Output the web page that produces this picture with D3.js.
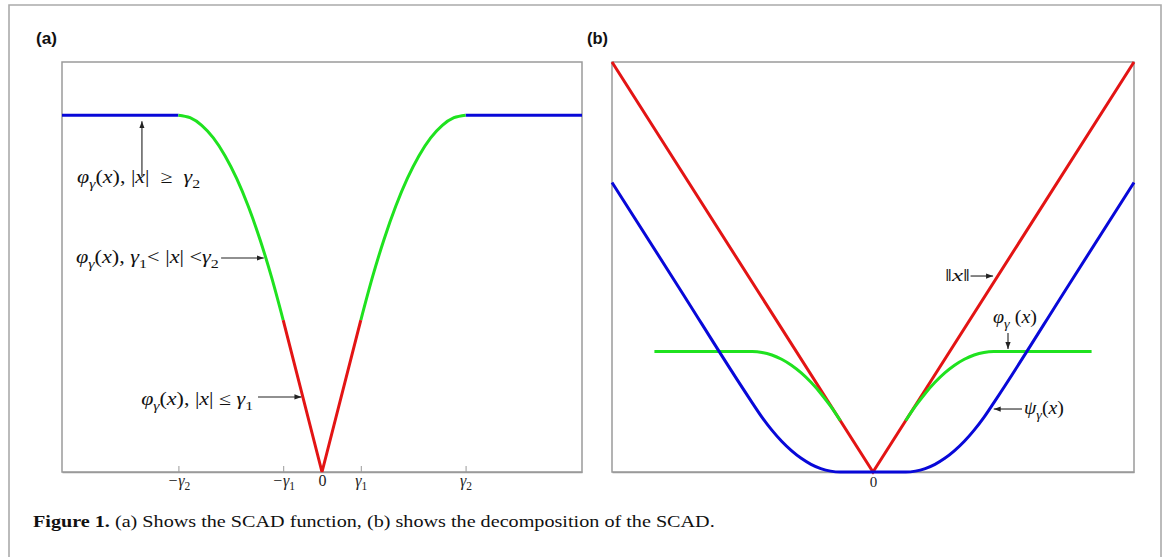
<!DOCTYPE html>
<html><head><meta charset="utf-8">
<script src="https://cdn.jsdelivr.net/npm/d3@7"></script>
<style>body{margin:0;background:#fff}svg{display:block}text{white-space:pre}</style>
</head><body>
<svg id="c" width="1171" height="557"></svg>
<script>
// ---------- data ----------
const aTickValues = [-3.7, -1, 0, 1, 3.7];
const aTickLabels = ["−γ|2", "−γ|1", "0", "γ|1", "γ|2"];
const bTickValues = [0];
const bTickLabels = ["0"];

// panel (a): SCAD pieces
const aBlueLX = [-6.7, -3.7], aBlueLY = [2.35, 2.35];
const aBlueRX = [3.7, 6.7],  aBlueRY = [2.35, 2.35];
const aGreenLX = [-3.7, -3.4, -3.1, -2.8, -2.5, -2.2, -1.9, -1.6, -1.3, -1.0];
const aGreenLY = [2.350, 2.333, 2.283, 2.200, 2.083, 1.933, 1.750, 1.533, 1.283, 1.000];
const aGreenRX = [1.0, 1.3, 1.6, 1.9, 2.2, 2.5, 2.8, 3.1, 3.4, 3.7];
const aGreenRY = [1.000, 1.283, 1.533, 1.750, 1.933, 2.083, 2.200, 2.283, 2.333, 2.350];
const aRedX = [-1, 0, 1], aRedY = [1, 0, 1];

// panel (b): decomposition
const bRedX = [-8, 0, 8], bRedY = [8, 0, 8];
const bGreenLX = [-6.7, -3.7, -3.4, -3.1, -2.8, -2.5, -2.2, -1.9, -1.6, -1.3, -1.0];
const bGreenLY = [2.35, 2.350, 2.333, 2.283, 2.200, 2.083, 1.933, 1.750, 1.533, 1.283, 1.000];
const bGreenRX = [1.0, 1.3, 1.6, 1.9, 2.2, 2.5, 2.8, 3.1, 3.4, 3.7, 6.7];
const bGreenRY = [1.000, 1.283, 1.533, 1.750, 1.933, 2.083, 2.200, 2.283, 2.333, 2.350, 2.35];
const bBlueX = [-8, -6, -3.7, -3.4, -3.1, -2.8, -2.5, -2.2, -1.9, -1.6, -1.3, -1, 0, 1, 1.3, 1.6, 1.9, 2.2, 2.5, 2.8, 3.1, 3.4, 3.7, 6, 8];
const bBlueY = [5.65, 3.65, 1.35, 1.067, 0.817, 0.600, 0.417, 0.267, 0.150, 0.067, 0.017, 0, 0, 0, 0.017, 0.067, 0.150, 0.267, 0.417, 0.600, 0.817, 1.067, 1.35, 3.65, 5.65];

// ---------- drawing ----------
const BLUE = "#0808d8", GREEN = "#1fe21f", RED = "#e31414", BOX = "#9a9a9a";
const svg = d3.select("#c");
const defs = svg.append("defs");
defs.append("marker").attr("id", "ah").attr("viewBox", "0 0 8 6")
  .attr("refX", 8).attr("refY", 3).attr("markerWidth", 7).attr("markerHeight", 5.5)
  .attr("markerUnits", "userSpaceOnUse").attr("orient", "auto")
  .append("path").attr("d", "M0,0L8,3L0,6Z").attr("fill", "#222");

// outer frame
svg.append("path").attr("d", "M9,557V5H1161V557").attr("fill", "none")
  .attr("stroke", "#ababab").attr("stroke-width", 1.6);

const SERIF = "'Liberation Serif', 'Times New Roman', serif";

function mathText(parent, x, y, parts, size, width) {
  const t = parent.append("text").attr("x", x).attr("y", y)
    .attr("font-family", SERIF).attr("font-size", size).attr("fill", "#111");
  let sub = false;
  parts.forEach(p => {
    const isSub = p[1].startsWith("s");
    const ts = t.append("tspan").text(p[0]);
    if (p[1].includes("i")) ts.attr("font-style", "italic");
    if (p[1].includes("b")) ts.attr("font-weight", "bold");
    if (isSub) ts.attr("font-size", size * 0.72);
    if (isSub && !sub) ts.attr("dy", size * 0.28);
    if (!isSub && sub) ts.attr("dy", -size * 0.28);
    sub = isSub;
  });
  if (width) {
    const w = t.node().getBBox().width;
    const sx = width / w;
    t.attr("transform", `translate(${x},${y}) scale(${sx},1) translate(${-x},${-y})`);
  }
  return t;
}
function arrow(parent, x1, y1, x2, y2) {
  parent.append("line").attr("x1", x1).attr("y1", y1).attr("x2", x2).attr("y2", y2)
    .attr("stroke", "#222").attr("stroke-width", 1.1).attr("marker-end", "url(#ah)");
}
function drawLine(g, xs, ys, x, y, color) {
  const pts = xs.map((v, i) => [v, ys[i]]);
  g.append("path").datum(pts)
    .attr("d", d3.line().x(d => x(d[0])).y(d => y(d[1])).curve(d3.curveMonotoneX))
    .attr("fill", "none").attr("stroke", color).attr("stroke-width", 3)
    .attr("stroke-linejoin", "round");
}
function tickLabels(axisG, labels, size) {
  axisG.selectAll(".tick text").each(function (d, i) {
    const t = d3.select(this);
    const lab = labels[i];
    t.text(null).attr("font-family", SERIF).attr("font-size", size).attr("fill", "#222");
    if (lab.includes("|")) {
      const [main, sb] = lab.split("|");
      t.append("tspan").text(main).attr("font-style", "italic");
      t.append("tspan").text(sb).attr("font-size", size * 0.72).attr("dy", size * 0.22);
    } else {
      t.append("tspan").text(lab);
    }
  });
}

// panel labels
[["(a)", 36], ["(b)", 587]].forEach(([s, x]) => {
  const t = svg.append("text").attr("x", x).attr("y", 44).text(s)
    .attr("font-family", "'Liberation Sans', Arial, sans-serif").attr("font-weight", "bold")
    .attr("font-size", 16).attr("fill", "#111");
  const w = t.node().getBBox().width;
  t.attr("transform", `translate(${x},44) scale(${21 / w},1) translate(${-x},-44)`);
});

// ----- panel (a) -----
const xA = d3.scaleLinear([-6.7, 6.7], [62, 582]);
const yA = d3.scaleLinear([0, 2.7], [472, 62]);
const gA = svg.append("g");
gA.append("rect").attr("x", 62).attr("y", 62).attr("width", 520).attr("height", 410)
  .attr("fill", "none").attr("stroke", BOX).attr("stroke-width", 1.5);
const axA = gA.append("g").attr("transform", "translate(0,472)")
  .call(d3.axisBottom(xA).tickValues(aTickValues).tickSizeInner(-6).tickSizeOuter(0).tickPadding(3));
axA.select(".domain").attr("stroke", BOX).attr("stroke-width", 1.5);
axA.selectAll(".tick line").attr("stroke", BOX);
tickLabels(axA, aTickLabels, 16);

drawLine(gA, aBlueLX, aBlueLY, xA, yA, BLUE);
drawLine(gA, aBlueRX, aBlueRY, xA, yA, BLUE);
drawLine(gA, aGreenLX, aGreenLY, xA, yA, GREEN);
drawLine(gA, aGreenRX, aGreenRY, xA, yA, GREEN);
gA.append("path").datum(aRedX.map((v, i) => [v, aRedY[i]]))
  .attr("d", d3.line().x(d => xA(d[0])).y(d => yA(d[1])))
  .attr("fill", "none").attr("stroke", RED).attr("stroke-width", 3).attr("stroke-linejoin", "miter");

// annotations (a)
mathText(gA, xA(-6.31), yA(1.903),
  [["φ", "i"], ["γ", "si"], ["(", "n"], ["x", "i"], ["), |", "n"], ["x", "i"], ["|  ≥  ", "n"], ["γ", "i"], ["2", "sn"]], 18, 123);
arrow(gA, xA(-4.64), yA(1.95), xA(-4.64), yA(2.31));
mathText(gA, xA(-6.34), yA(1.376),
  [["φ", "i"], ["γ", "si"], ["(", "n"], ["x", "i"], ["), ", "n"], ["γ", "i"], ["1", "sn"], ["< |", "n"], ["x", "i"], ["| <", "n"], ["γ", "i"], ["2", "sn"]], 18, 143);
arrow(gA, xA(-2.60), yA(1.409), xA(-1.50), yA(1.409));
mathText(gA, xA(-4.66), yA(0.441),
  [["φ", "i"], ["γ", "si"], ["(", "n"], ["x", "i"], ["), |", "n"], ["x", "i"], ["| ≤ ", "n"], ["γ", "i"], ["1", "sn"]], 18, 112);
arrow(gA, xA(-1.649), yA(0.494), xA(-0.53), yA(0.494));

// ----- panel (b) -----
const xB = d3.scaleLinear([-8, 8], [612, 1134]);
const yB = d3.scaleLinear([0, 8], [472, 62]);
const gB = svg.append("g");
gB.append("rect").attr("x", 612).attr("y", 62).attr("width", 522).attr("height", 410)
  .attr("fill", "none").attr("stroke", BOX).attr("stroke-width", 1.5);
const axB = gB.append("g").attr("transform", "translate(0,472)")
  .call(d3.axisBottom(xB).tickValues(bTickValues).tickSize(0).tickPadding(4));
axB.select(".domain").attr("stroke", BOX).attr("stroke-width", 1.5);
tickLabels(axB, bTickLabels, 15);

gB.append("path").datum(bRedX.map((v, i) => [v, bRedY[i]]))
  .attr("d", d3.line().x(d => xB(d[0])).y(d => yB(d[1])))
  .attr("fill", "none").attr("stroke", RED).attr("stroke-width", 3).attr("stroke-linejoin", "miter");
drawLine(gB, bGreenLX, bGreenLY, xB, yB, GREEN);
drawLine(gB, bGreenRX, bGreenRY, xB, yB, GREEN);
drawLine(gB, bBlueX, bBlueY, xB, yB, BLUE);

// annotations (b)
mathText(gB, xB(2.207), yB(3.727), [["‖", "n"], ["x", "i"], ["‖", "n"]], 17, 25);
arrow(gB, xB(2.99), yB(3.824), xB(3.68), yB(3.824));
mathText(gB, xB(3.678), yB(2.907), [["φ", "i"], ["γ", "si"], [" (", "n"], ["x", "i"], [")", "n"]], 18, 44);
arrow(gB, xB(4.138), yB(2.712), xB(4.138), yB(2.40));
mathText(gB, xB(4.628), yB(1.132), [["ψ", "i"], ["γ", "si"], ["(", "n"], ["x", "i"], [")", "n"]], 18, 40);
arrow(gB, xB(4.567), yB(1.229), xB(3.70), yB(1.229));

// caption
mathText(svg, 33, 527, [["Figure 1.", "nb"], [" (a) Shows the SCAD function, (b) shows the decomposition of the SCAD.", "n"]], 17.5, 682);
</script>
</body></html>
